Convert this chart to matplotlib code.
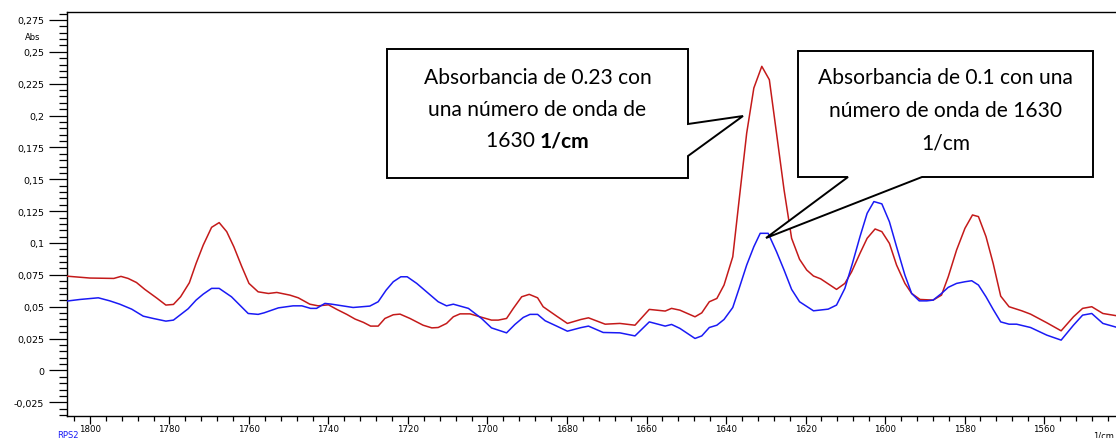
import matplotlib
matplotlib.use("Agg")
import matplotlib.pyplot as plt
from matplotlib.patches import Polygon
from matplotlib.ticker import FixedLocator, MultipleLocator

# ---------------- data ----------------
red_wn = [1805.9, 1800, 1794, 1792.2, 1790.4, 1788.3, 1786.2, 1783.2, 1780.9, 1779,
          1777.2, 1775, 1773.3, 1771.5, 1769.4, 1767.5, 1765.6, 1763.8, 1761.8, 1760,
          1757.7, 1755.1, 1753, 1749.7, 1747.6, 1744.7, 1742.6, 1740, 1737.9, 1735.4,
          1733.3, 1731.2, 1729.4, 1727.5, 1725.8, 1723.7, 1722, 1719.5, 1716.2, 1714,
          1712.4, 1710.3, 1708.6, 1706.9, 1704.4, 1701.9, 1699, 1697.3, 1695.2, 1693.5,
          1691.4, 1689.5, 1687.4, 1686, 1682.6, 1679.9, 1676.5, 1674.6, 1670.4, 1666.7,
          1662.9, 1659.3, 1655.3, 1653.7, 1651.6, 1647.8, 1646.1, 1644.2, 1642.3, 1640.5,
          1638.3, 1636.7, 1634.8, 1633, 1631, 1629.1, 1627.3, 1625.4, 1623.5, 1621.5,
          1619.7, 1618, 1616.2, 1612.2, 1610.1, 1608.4, 1606.3, 1604.5, 1602.5, 1600.8,
          1598.9, 1597.1, 1595, 1593.3, 1591.2, 1587.9, 1585.8, 1584.1, 1582, 1579.9,
          1578, 1576.5, 1574.6, 1572.8, 1570.9, 1568.8, 1565.6, 1563.4, 1559.3, 1555.7,
          1552.6, 1550.3, 1548, 1545.2, 1541.9]
red_abs = [0.074, 0.0725, 0.0722, 0.0738, 0.0722, 0.069, 0.0636, 0.0568, 0.0513, 0.0518,
           0.0578, 0.0688, 0.084, 0.0984, 0.1123, 0.116, 0.1089, 0.097, 0.0814, 0.0683,
           0.0617, 0.0604, 0.0612, 0.0591, 0.057, 0.052, 0.0507, 0.0515, 0.0479, 0.044,
           0.0403, 0.0377, 0.0348, 0.0348, 0.0408, 0.0437, 0.0442, 0.0408, 0.0355, 0.0334,
           0.0337, 0.0369, 0.0421, 0.0444, 0.0444, 0.0421, 0.0395, 0.0395, 0.0408, 0.0487,
           0.0578, 0.0597, 0.057, 0.05, 0.0426, 0.0369, 0.040, 0.0413, 0.0363, 0.0369,
           0.0355, 0.0479, 0.0466, 0.0487, 0.0473, 0.0421, 0.0452, 0.0539, 0.0565, 0.067,
           0.0892, 0.1338, 0.1862, 0.2216, 0.2386, 0.2281, 0.1862, 0.1417, 0.1037, 0.0872,
           0.0788, 0.0741, 0.0719, 0.0636, 0.0683, 0.0774, 0.0919, 0.1037, 0.111, 0.1089,
           0.0997, 0.0827, 0.0683, 0.0604, 0.0557, 0.0552, 0.0591, 0.0735, 0.0945, 0.1115,
           0.122, 0.1207, 0.105, 0.084, 0.0583, 0.05, 0.0468, 0.0442, 0.0374, 0.0311,
           0.0421, 0.0487, 0.05, 0.0447, 0.043]

blue_wn = [1805.9, 1802.5, 1797.9, 1795, 1792.5, 1789.5, 1786.6, 1784.1, 1780.9, 1779,
           1775.3, 1773.3, 1771.5, 1769.4, 1767.5, 1764.4, 1760.2, 1757.7, 1756.2, 1752.6,
           1748.9, 1746.7, 1744.5, 1743, 1740.9, 1739.2, 1733.8, 1729.6, 1727.5, 1725.5,
           1723.7, 1721.8, 1720.2, 1717.8, 1712.4, 1710.3, 1708.6, 1704.8, 1701.5, 1699,
           1695.2, 1693.1, 1691, 1689.3, 1687.4, 1685.5, 1682.6, 1679.9, 1676.5, 1674.6,
           1670.9, 1666.7, 1662.9, 1659.3, 1655.3, 1653.7, 1651.6, 1647.8, 1646.1, 1644.2,
           1642.3, 1640.5, 1638.3, 1636.7, 1634.8, 1633, 1631.4, 1629.4, 1627.3, 1625.4,
           1623.5, 1621.5, 1618, 1614.3, 1612.2, 1610.1, 1608.2, 1606.3, 1604.5, 1602.8,
           1600.8, 1598.9, 1597.1, 1595, 1593.3, 1591.4, 1589.5, 1587.9, 1585.8, 1584.1,
           1582, 1579.9, 1578.2, 1576.5, 1574.6, 1572.8, 1570.9, 1568.8, 1566.9, 1563.4,
           1559.3, 1555.7, 1552.6, 1550.3, 1548, 1545.2, 1541.9]
blue_abs = [0.0544, 0.0557, 0.057, 0.0546, 0.052, 0.0481, 0.0426, 0.0408, 0.0387, 0.0395,
            0.0484, 0.0552, 0.0599, 0.0644, 0.0644, 0.0578, 0.0447, 0.044, 0.0452, 0.0491,
            0.0507, 0.0507, 0.0487, 0.0487, 0.0526, 0.052, 0.0494, 0.0505, 0.0539, 0.063,
            0.0696, 0.0735, 0.0735, 0.0683, 0.0539, 0.0507, 0.052, 0.0487, 0.0408, 0.0334,
            0.0295, 0.0361, 0.0416, 0.044, 0.044, 0.039, 0.0348, 0.0308, 0.0336, 0.0348,
            0.0298, 0.0295, 0.0271, 0.0381, 0.0348, 0.0361, 0.033, 0.0251, 0.0271, 0.0337,
            0.0355, 0.04, 0.0494, 0.0644, 0.0827, 0.0971, 0.1076, 0.1076, 0.0932, 0.0788,
            0.0636, 0.0539, 0.0468, 0.0481, 0.0513, 0.0644, 0.084, 0.105, 0.1233, 0.1325,
            0.1307, 0.1167, 0.0971, 0.0748, 0.0604, 0.0546, 0.0546, 0.0552, 0.0604, 0.0652,
            0.0683, 0.0696, 0.0704, 0.067, 0.0578, 0.0479, 0.0381, 0.0363, 0.0363, 0.0337,
            0.0277, 0.0238, 0.0355, 0.0434, 0.0447, 0.0369, 0.034]

x_ticks = [1800, 1780, 1760, 1740, 1720, 1700, 1680, 1660, 1640, 1620, 1600, 1580, 1560]
y_ticks = [-0.025, 0, 0.025, 0.05, 0.075, 0.1, 0.125, 0.15, 0.175, 0.2, 0.225, 0.25, 0.275]
y_labels = ['-0,025', '0', '0,025', '0,05', '0,075', '0,1', '0,125', '0,15',
            '0,175', '0,2', '0,225', '0,25', '0,275']

callout1_lines = ["Absorbancia de 0.23 con", "una número de onda de"]
callout1_last = ("1630 ", "1/cm")
callout2_lines = ["Absorbancia de 0.1 con una", "número de onda de 1630", "1/cm"]

# ---------------- figure ----------------
W, H = 1116, 439
fig = plt.figure(figsize=(W / 100, H / 100), dpi=100)

def fx(px):
    return px / W

def fy(py):
    return 1 - py / H

ax = fig.add_axes([fx(66.5), fy(416.7), 1 - fx(66.5), fy(13.3) - fy(416.7)])
ax.plot(red_wn, red_abs, color='#C41A1A', lw=1.1, zorder=3)
ax.plot(blue_wn, blue_abs, color='#1A1AF5', lw=1.1, zorder=3)

ax.set_xlim(1805.9, 1541.9)
ax.set_ylim(-0.0355, 0.281)

ax.xaxis.set_major_locator(FixedLocator(x_ticks))
ax.xaxis.set_minor_locator(MultipleLocator(4))
ax.set_xticklabels([str(t) for t in x_ticks])
ax.yaxis.set_major_locator(FixedLocator(y_ticks))
ax.yaxis.set_minor_locator(MultipleLocator(0.005))
ax.set_yticklabels(y_labels)

ax.tick_params(axis='y', which='major', length=13, width=0.9, pad=3,
               labelsize=6.8, direction='out')
ax.tick_params(axis='y', which='minor', length=6, width=0.9, direction='out')
ax.tick_params(axis='x', which='major', length=5.5, width=0.9, pad=0.8,
               labelsize=6.2, direction='out')
ax.tick_params(axis='x', which='minor', length=3.5, width=0.9, direction='out')
for lab in ax.get_xticklabels() + ax.get_yticklabels():
    lab.set_fontfamily('DejaVu Sans')

ax.spines['right'].set_visible(False)
for s in ('left', 'top', 'bottom'):
    ax.spines[s].set_linewidth(1.0)
    ax.spines[s].set_color('black')

fig.text(fx(33), fy(37), 'Abs', fontsize=6, family='DejaVu Sans',
         ha='center', va='center')
fig.text(fx(57), fy(438.3), 'RPS2', fontsize=6, color='#1A1AF5',
         family='DejaVu Sans', ha='left', va='baseline')
fig.text(fx(1114), fy(438.3), '1/cm', fontsize=6, family='DejaVu Sans',
         ha='right', va='baseline')

# ---------------- callouts ----------------
def callout(pts):
    poly = Polygon([(fx(x), fy(y)) for x, y in pts], closed=True,
                   facecolor='white', edgecolor='black', lw=1.4,
                   transform=fig.transFigure, zorder=5)
    fig.add_artist(poly)

callout([(387, 50), (688, 50), (688, 125), (743, 117), (688, 157),
         (688, 179), (387, 179)])
callout([(798, 52), (1093, 52), (1093, 178), (922, 178), (766, 239),
         (848, 178), (798, 178)])

renderer = fig.canvas.get_renderer()
fam = ['Lato', 'DejaVu Sans']

# fit font size to reference line width
probe = fig.text(0, 0, callout2_lines[0], fontsize=12, family=fam)
wpx = probe.get_window_extent(renderer).width
fs = 12 * 254.0 / wpx
probe.remove()

def ctext(x, y, s, **kw):
    return fig.text(fx(x), fy(y), s, fontsize=fs, family=fam, ha='center',
                    va='center', zorder=6, **kw)

ctext(537.5, 78, callout1_lines[0])
ctext(537.5, 110, callout1_lines[1])
# mixed weight last line
t1 = fig.text(0, 0, callout1_last[0], fontsize=fs, family=fam)
w1 = t1.get_window_extent(renderer).width
t1.remove()
t2 = fig.text(0, 0, callout1_last[1], fontsize=fs, family=fam, fontweight='bold')
w2 = t2.get_window_extent(renderer).width
t2.remove()
x0 = 537.5 - (w1 + w2) / 2
fig.text(fx(x0), fy(141), callout1_last[0], fontsize=fs, family=fam,
         ha='left', va='center', zorder=6)
fig.text(fx(x0 + w1), fy(141), callout1_last[1], fontsize=fs, family=fam,
         fontweight='bold', ha='left', va='center', zorder=6)

ctext(945.5, 78, callout2_lines[0])
ctext(945.5, 111, callout2_lines[1])
ctext(945.5, 144, callout2_lines[2])

fig.savefig('out.png', dpi=100)
